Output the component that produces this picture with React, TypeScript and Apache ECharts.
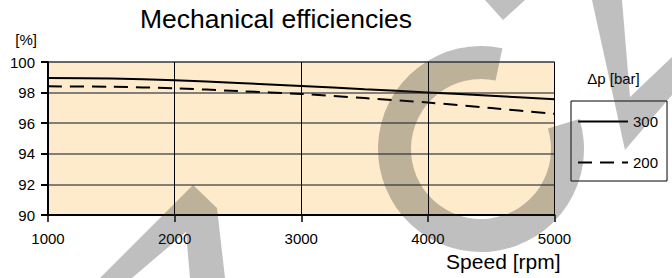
import React, { useEffect, useRef } from 'react';
import * as echarts from 'echarts';

const speeds = [1000, 1500, 2000, 2500, 3000, 3500, 4000, 4500, 5000];
const eff300 = [98.96, 98.92, 98.81, 98.63, 98.43, 98.22, 98.01, 97.79, 97.56];
const eff200 = [98.41, 98.38, 98.28, 98.1, 97.91, 97.64, 97.35, 96.99, 96.61];
const seriesNames = ['300', '200'];
const titleText = 'Mechanical efficiencies';
const xName = 'Speed [rpm]';
const yName = '[%]';
const legendTitle = 'Δp [bar]';

export default function App() {
  const ref = useRef<HTMLDivElement>(null);
  useEffect(() => {
    document.body.style.margin = '0';
    const chart = echarts.init(ref.current!, undefined, { renderer: 'svg' });
    const font = "'Liberation Sans', Arial, Helvetica, sans-serif";
    const wm = 'rgba(42,42,42,0.3)';
    const deg = Math.PI / 180;
    chart.setOption({
      animation: false,
      textStyle: { fontFamily: font },
      title: {
        text: titleText,
        left: 140,
        top: 5,
        padding: 0,
        textStyle: { fontSize: 26.5, fontWeight: 'normal', color: '#000', fontFamily: font },
      },
      grid: {
        left: 48,
        right: 117.5,
        top: 62,
        bottom: 63,
        show: true,
        backgroundColor: '#FEEBCB',
        borderColor: '#222',
        borderWidth: 1,
      },
      xAxis: {
        type: 'value',
        min: 1000,
        max: 5000,
        interval: 1000,
        name: xName,
        nameLocation: 'end',
        nameGap: 6,
        nameTextStyle: {
          fontSize: 21,
          color: '#000',
          align: 'right',
          verticalAlign: 'top',
          padding: [36, 0, 0, 0],
        },
        axisLine: { show: true, onZero: false, lineStyle: { color: '#000', width: 2 } },
        axisTick: { show: true, length: 7, lineStyle: { color: '#000', width: 1.5 } },
        axisLabel: { fontSize: 15, color: '#000', margin: 16, formatter: (v: number) => String(v) },
        splitLine: { show: true, lineStyle: { color: '#000', width: 1 } },
      },
      yAxis: {
        type: 'value',
        min: 90,
        max: 100,
        interval: 2,
        name: yName,
        nameLocation: 'end',
        nameGap: 23,
        nameTextStyle: {
          fontSize: 15,
          color: '#000',
          align: 'right',
          verticalAlign: 'middle',
          padding: [0, 11, 0, 0],
        },
        axisLine: { show: true, lineStyle: { color: '#000', width: 2 } },
        axisTick: { show: true, length: 7, lineStyle: { color: '#000', width: 2 } },
        axisLabel: { fontSize: 15, color: '#000', margin: 13 },
        splitLine: { show: true, lineStyle: { color: '#5a5a5a', width: 1.5 } },
      },
      legend: {
        orient: 'vertical',
        left: 571,
        top: 101,
        padding: [13, 9, 11, 6],
        itemWidth: 50,
        itemHeight: 14,
        itemGap: 26,
        borderColor: '#000',
        borderWidth: 1,
        itemStyle: { opacity: 0 },
        textStyle: { fontSize: 15, color: '#000', fontFamily: font },
        data: seriesNames,
      },
      series: [
        {
          name: seriesNames[0],
          type: 'line',
          data: speeds.map((s, i) => [s, eff300[i]]),
          symbol: 'none',
          smooth: 0.3,
          lineStyle: { color: '#000', width: 2, type: 'solid' },
          itemStyle: { color: '#000' },
          z: 5,
        },
        {
          name: seriesNames[1],
          type: 'line',
          data: speeds.map((s, i) => [s, eff200[i]]),
          symbol: 'none',
          smooth: 0.3,
          lineStyle: { color: '#000', width: 2, type: [14, 8] },
          itemStyle: { color: '#000' },
          z: 5,
        },
      ],
      graphic: [
        {
          type: 'text',
          x: 613.5,
          y: 78,
          style: {
            text: legendTitle,
            fontSize: 15,
            fontFamily: font,
            fill: '#000',
            align: 'center',
            verticalAlign: 'middle',
          },
        },
        {
          type: 'sector',
          z: 100,
          shape: { cx: 481, cy: 149, r0: 70, r: 103, startAngle: -17 * deg, endAngle: 282 * deg, clockwise: true },
          style: { fill: wm },
        },
        {
          type: 'polygon',
          z: 100,
          shape: { points: [[100, 278], [193, 185], [217, 208], [225, 278], [190, 278], [186, 232], [132, 278]] },
          style: { fill: wm },
        },
        {
          type: 'polygon',
          z: 100,
          shape: { points: [[485, 0], [525, 0], [503, 20]] },
          style: { fill: wm },
        },
        {
          type: 'polygon',
          z: 100,
          shape: { points: [[592, 0], [622, 0], [630, 97], [672, 57], [672, 95], [625, 150]] },
          style: { fill: wm },
        },
      ],
    });
    return () => chart.dispose();
  }, []);
  return <div ref={ref} style={{ width: 672, height: 278 }} />;
}
